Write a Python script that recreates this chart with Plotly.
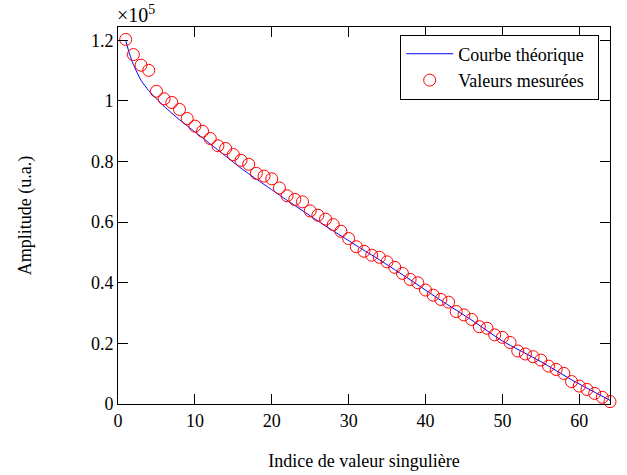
import plotly.graph_objects as go

# Measured amplitudes (units of 1e5)
indices = list(range(1, 65))
measured = [1.203, 1.153, 1.118, 1.101, 1.032, 1.007, 0.995, 0.972, 0.942, 0.917,
            0.900, 0.876, 0.852, 0.843, 0.823, 0.804, 0.791, 0.761, 0.752, 0.743,
            0.713, 0.687, 0.675, 0.667, 0.637, 0.623, 0.610, 0.592, 0.570, 0.546,
            0.519, 0.504, 0.491, 0.484, 0.469, 0.451, 0.431, 0.411, 0.400, 0.376,
            0.359, 0.345, 0.336, 0.305, 0.294, 0.279, 0.255, 0.250, 0.228, 0.220,
            0.203, 0.175, 0.165, 0.156, 0.145, 0.125, 0.114, 0.101, 0.074, 0.059,
            0.048, 0.035, 0.022, 0.008]

# Theoretical curve
theory_x = [1, 1.5, 2, 3, 4, 5, 6, 8, 10, 12, 14, 16, 18, 20, 22, 25, 28, 30,
            32, 34, 38, 42, 46, 50, 55, 59, 64]
theory_y = [1.200, 1.155, 1.120, 1.068, 1.034, 1.007, 0.982, 0.938, 0.898, 0.858,
            0.818, 0.778, 0.742, 0.707, 0.672, 0.621, 0.571, 0.539, 0.507, 0.476,
            0.410, 0.342, 0.277, 0.208, 0.140, 0.080, 0.012]

x_ticks = [0, 10, 20, 30, 40, 50, 60]
y_ticks = [0, 0.2, 0.4, 0.6, 0.8, 1.0, 1.2]
y_tick_text = ["0", "0.2", "0.4", "0.6", "0.8", "1", "1.2"]

FONT = "Liberation Serif, Times New Roman, Times, serif"

fig = go.Figure()
fig.add_trace(go.Scatter(
    x=theory_x, y=theory_y, mode="lines", name="Courbe théorique&nbsp;&nbsp;",
    line=dict(color="#0000ff", width=1, shape="spline", smoothing=0.6),
    legendgroup="a"))
fig.add_trace(go.Scatter(
    x=indices, y=measured, mode="markers", name="Valeurs mesurées&nbsp;&nbsp;",
    marker=dict(symbol="circle-open", color="#ff0000", size=12,
                line=dict(color="#ff0000", width=1)),
    legendgroup="b", cliponaxis=False))

axis_common = dict(
    showline=True, linecolor="black", linewidth=1, mirror="ticks",
    ticks="inside", ticklen=10, tickwidth=1, tickcolor="black",
    showgrid=False, zeroline=False, automargin=False,
    tickfont=dict(family=FONT, size=18, color="black"),
)

fig.update_xaxes(range=[0, 64], tickvals=x_ticks, **axis_common,
                 title=dict(text="Indice de valeur singulière",
                            font=dict(family=FONT, size=18, color="black"),
                            standoff=24))
fig.update_yaxes(range=[0, 1.244], tickvals=y_ticks, ticktext=y_tick_text,
                 **axis_common,
                 title=dict(text="Amplitude (u.a.)",
                            font=dict(family=FONT, size=18, color="black"),
                            standoff=54))

fig.add_annotation(text="×10<sup>5</sup>", xref="paper", yref="paper",
                   x=0, y=1, xanchor="left", yanchor="bottom", showarrow=False,
                   font=dict(family=FONT, size=20, color="black"), xshift=-3, yshift=-1)

fig.update_layout(
    width=627, height=475,
    margin=dict(l=118, r=17, t=27, b=71),
    paper_bgcolor="white", plot_bgcolor="white",
    font=dict(family=FONT, size=18, color="black"),
    showlegend=True,
    legend=dict(x=0.978, y=0.98, xanchor="right", yanchor="top",
                bgcolor="white", bordercolor="black", borderwidth=1,
                font=dict(family=FONT, size=18, color="black"),
                itemwidth=47, tracegroupgap=0),
)

fig.write_html("out.html")
